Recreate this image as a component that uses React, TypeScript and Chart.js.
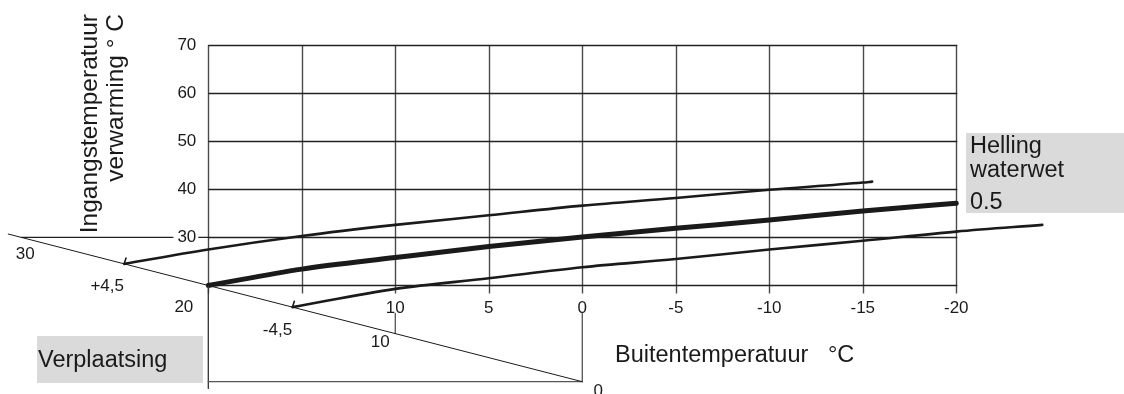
import React, { useEffect, useRef } from 'react';
import { Chart, registerables } from 'chart.js';

Chart.register(...registerables);

const FONT = "'Liberation Sans', Arial, Helvetica, sans-serif";

// Outside temperature (x, reversed) grid values and tick labels
const outsideTicks = [20, 15, 10, 5, 0, -5, -10, -15, -20];
const outsideTickLabels = ['', '', '10', '5', '0', '-5', '-10', '-15', '-20'];

// Flow temperature (y) grid values and tick labels
const flowTicks = [20, 30, 40, 50, 60, 70];
const flowTickLabels = ['20', '30', '40', '50', '60', '70'];

// Heating curve, slope 0.5, no displacement
const midOutside = [20, 15, 10, 5, 0, -5, -10, -15, -20];
const midFlow = [20, 23.4, 25.8, 28.1, 30.1, 31.9, 33.6, 35.5, 37.1];

// Curve displaced +4,5
const upperOutside = [24.5, 20, 15, 10, 5, 0, -5, -10, -15, -15.5];
const upperFlow = [24.5, 27.5, 30.3, 32.6, 34.6, 36.6, 38.2, 39.9, 41.4, 41.6];

// Curve displaced -4,5
const lowerOutside = [15.5, 10, 5, 0, -5, -10, -15, -20, -24.6];
const lowerFlow = [15.5, 19.3, 21.5, 23.8, 25.5, 27.5, 29.3, 31.2, 32.6];

// Arrow ticks at the start of displaced curves
const upperArrowOutside = [24.5, 24.4];
const upperArrowFlow = [24.5, 25.7];
const lowerArrowOutside = [15.5, 15.4];
const lowerArrowFlow = [15.5, 16.7];

// Room temperature (displacement) diagonal axis
const roomAxisOutside = [30.7, 0];
const roomAxisFlow = [30.7, 0];
const roomAxisValues = [30, 10, 0];
const roomAxisLabels = ['30', '10', '0'];
const displacementLabels = ['+4,5', '-4,5'];

// Construction lines of the diagram
const ext30Outside = [30, 20];
const ext30Flow = [30, 30];
const baseOutside = [20, 0];
const baseFlow = [0, 0];
const leftDropOutside = [20, 20];
const leftDropFlow = [20, -1.4];
const drop10Outside = [10, 10];
const drop10Flow = [14.2, 10];
const drop0Outside = [0, 0];
const drop0Flow = [14.2, 0];

// Visible value window
const X_MIN = -28.97;
const X_MAX = 31.14;
const Y_MIN = -2.56;
const Y_MAX = 79.36;

const pts = (xs: number[], ys: number[]) => xs.map((x, i) => ({ x, y: ys[i] }));

const line = (data: { x: number; y: number }[], width: number, color = '#1a1a1a') => ({
  data,
  borderColor: color,
  borderWidth: width,
  pointRadius: 0,
  fill: false,
  cubicInterpolationMode: 'monotone' as const,
  borderCapStyle: 'round' as const,
  borderJoinStyle: 'round' as const,
});

export default function App() {
  const ref = useRef<HTMLCanvasElement>(null);

  useEffect(() => {
    if (!ref.current) return;

    const diagram = {
      id: 'diagram',
      beforeDatasetsDraw(chart: any) {
        const { ctx } = chart;
        const xs = chart.scales.x;
        const ys = chart.scales.y;
        ctx.save();
        // grey boxes
        ctx.fillStyle = '#d9dad9';
        ctx.fillRect(966, 133, 158, 80);
        ctx.fillRect(37, 336, 166, 47);

        const xl = xs.getPixelForValue(outsideTicks[0]);
        const xr = xs.getPixelForValue(outsideTicks[outsideTicks.length - 1]);
        const yb = ys.getPixelForValue(flowTicks[0]);
        const yt = ys.getPixelForValue(flowTicks[flowTicks.length - 1]);
        ctx.lineWidth = 1.4;
        ctx.strokeStyle = '#4a4a4a';
        outsideTicks.forEach((v) => {
          const px = Math.round(xs.getPixelForValue(v)) + 0.5;
          ctx.beginPath();
          ctx.moveTo(px, yt);
          ctx.lineTo(px, yb + 8);
          ctx.stroke();
        });
        ctx.strokeStyle = '#222';
        flowTicks.forEach((v) => {
          const py = Math.round(ys.getPixelForValue(v)) + 0.5;
          ctx.beginPath();
          ctx.moveTo(xl, py);
          ctx.lineTo(xr + 1, py);
          ctx.stroke();
        });
        ctx.restore();
      },
      afterDatasetsDraw(chart: any) {
        const { ctx } = chart;
        const xs = chart.scales.x;
        const ys = chart.scales.y;
        ctx.save();
        ctx.fillStyle = '#1a1a1a';
        ctx.font = `17px ${FONT}`;
        ctx.textBaseline = 'middle';

        // y tick labels
        const xAxisPx = xs.getPixelForValue(outsideTicks[0]);
        flowTicks.forEach((v, i) => {
          const isBase = i === 0;
          const tx = xAxisPx - (isBase ? 15 : 12);
          const ty = ys.getPixelForValue(v) + (isBase ? 21.5 : 0);
          const w = ctx.measureText(flowTickLabels[i]).width;
          ctx.fillStyle = '#ffffff';
          ctx.fillRect(tx - w - 4, ty - 6, w + 6, 12);
          ctx.fillStyle = '#1a1a1a';
          ctx.textAlign = 'right';
          ctx.fillText(flowTickLabels[i], tx, ty);
        });

        // x tick labels
        ctx.textAlign = 'center';
        const baseY = ys.getPixelForValue(flowTicks[0]);
        outsideTicks.forEach((v, i) => {
          if (!outsideTickLabels[i]) return;
          ctx.fillText(outsideTickLabels[i], xs.getPixelForValue(v), baseY + 22.5);
        });

        // room temperature axis labels
        const roomOffsets = [
          [4, 17],
          [-15, 8.5],
          [16, 10],
        ];
        roomAxisValues.forEach((v, i) => {
          ctx.fillText(
            roomAxisLabels[i],
            xs.getPixelForValue(v) + roomOffsets[i][0],
            ys.getPixelForValue(v) + roomOffsets[i][1]
          );
        });

        // displacement labels
        ctx.fillText(
          displacementLabels[0],
          xs.getPixelForValue(upperOutside[0]) - 17,
          ys.getPixelForValue(upperFlow[0]) + 22
        );
        ctx.fillText(
          displacementLabels[1],
          xs.getPixelForValue(lowerOutside[0]) - 15,
          ys.getPixelForValue(lowerFlow[0]) + 23
        );

        // titles
        ctx.font = `23.5px ${FONT}`;
        ctx.textBaseline = 'alphabetic';
        ctx.textAlign = 'left';
        ctx.fillText('Buitentemperatuur   \u00b0C', 615, 362);
        ctx.fillText('Verplaatsing', 38, 367);
        ctx.fillText('Helling', 970, 153);
        ctx.fillText('waterwet', 970, 177);
        ctx.fillText('0.5', 970, 209);

        ctx.font = `24.5px ${FONT}`;
        ctx.textAlign = 'right';
        ctx.save();
        ctx.translate(97, 14);
        ctx.rotate(-Math.PI / 2);
        ctx.fillText('Ingangstemperatuur', 0, 0);
        ctx.restore();
        ctx.save();
        ctx.translate(123, 14);
        ctx.rotate(-Math.PI / 2);
        ctx.fillText('verwarming \u00b0 C', 0, 0);
        ctx.restore();

        ctx.restore();
      },
    };

    const chart = new Chart(ref.current, {
      type: 'line',
      data: {
        datasets: [
          line(pts(roomAxisOutside, roomAxisFlow), 1),
          line(pts(ext30Outside, ext30Flow), 1.3, '#222'),
          line(pts(baseOutside, baseFlow), 1.3, '#555'),
          line(pts(leftDropOutside, leftDropFlow), 1.3, '#333'),
          line(pts(drop10Outside, drop10Flow), 1.3, '#555'),
          line(pts(drop0Outside, drop0Flow), 1.3, '#555'),
          line(pts(midOutside, midFlow), 5),
          line(pts(upperOutside, upperFlow), 2.6),
          line(pts(lowerOutside, lowerFlow), 2.6),
          line(pts(upperArrowOutside, upperArrowFlow), 1.6),
          line(pts(lowerArrowOutside, lowerArrowFlow), 1.6),
        ] as any,
      },
      options: {
        animation: false,
        responsive: false,
        layout: { padding: 0 },
        events: [],
        plugins: {
          legend: { display: false },
          tooltip: { enabled: false },
          title: { display: false },
        },
        scales: {
          x: { type: 'linear', display: false, reverse: true, min: X_MIN, max: X_MAX },
          y: { type: 'linear', display: false, min: Y_MIN, max: Y_MAX },
        },
      },
      plugins: [diagram],
    });
    return () => chart.destroy();
  }, []);

  return (
    <div style={{ position: 'absolute', left: 0, top: 0, width: 1124, height: 394, background: '#fff' }}>
      <canvas ref={ref} width={1124} height={394} style={{ display: 'block' }} />
    </div>
  );
}
